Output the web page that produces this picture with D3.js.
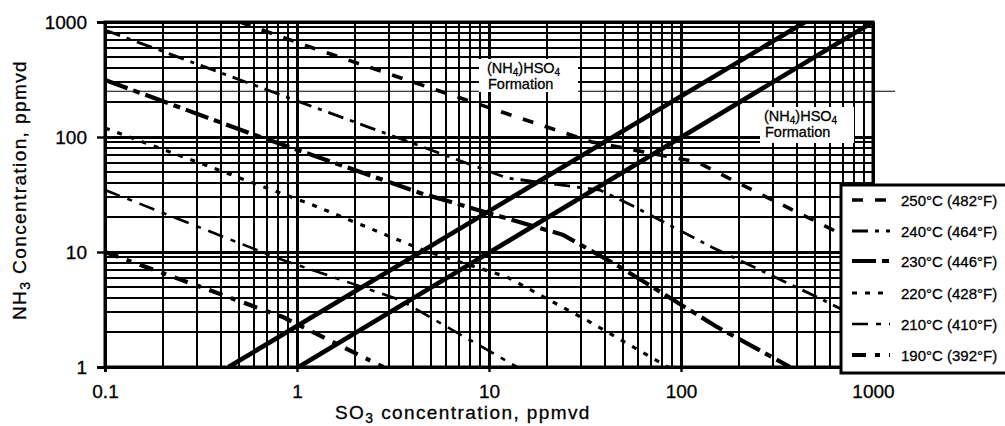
<!DOCTYPE html>
<html>
<head>
<meta charset="utf-8">
<script src="https://cdn.jsdelivr.net/npm/d3@7"></script>
<style>
    body { margin: 0; background: #fff; }
    text { font-family: "Liberation Sans", Arial, Helvetica, sans-serif; fill: #000; stroke: #000; stroke-width: 0.3px; }
</style>
</head>
<body>
<svg id="SVG_CONTAINER_Chart" width="1005" height="426"></svg>
<script>
//** DATA *****************************************
const xTickValues = [0.1, 1, 10, 100, 1000];
const yTickValues = [1, 10, 100, 1000];

const legendLabels = ["250°C (482°F)", "240°C (464°F)", "230°C (446°F)",
                      "220°C (428°F)", "210°C (410°F)", "190°C (392°F)"];

// [SO3, NH3] points
const curve250 = [[0.505, 1000], [1.21, 594], [3.74, 313], [14.5, 146], [34.4, 90.5], [121, 60.6], [252, 32.6], [549, 17.2], [1000, 10.4]];
const curve240 = [[0.1, 851], [1.04, 201], [4.53, 81.8], [12.4, 44.0], [37.8, 34.6], [57.6, 24.6], [145, 11.0], [511, 4.06], [1000, 2.32]];
const curve230 = [[0.1, 313], [0.604, 104], [4.37, 32.6], [24.3, 14.1], [48.1, 7.41], [154, 2.23], [370, 1]];
const curve220 = [[0.1, 120], [1.21, 25.6], [4.53, 10.4], [12.4, 6.06], [33.6, 2.46], [85.5, 1]];
const curve210 = [[0.1, 34.6], [0.787, 8.87], [3.44, 3.83], [14.0, 1]];
const curve190 = [[0.1, 10], [0.845, 2.72], [2.81, 1]];

// (NH4)HSO4 formation boundaries
const formationUpper = [[0.44, 1], [443, 1000]];
const formationLower = [[1.02, 1], [1000, 1000]];

const curves = [curve250, curve240, curve230, curve220, curve210, curve190];

//** STYLES *****************************************
const curveStyles = [
    {width: 3.6, dash: "11,12"},
    {width: 2.8, dash: "16,7,4,7"},
    {width: 4.2, dash: "24,6,7,6"},
    {width: 3.2, dash: "5,8"},
    {width: 2.6, dash: "16,8,5,8"},
    {width: 4.2, dash: "14,9,5,9"}
];

const MARGIN = {LEFT: 105, RIGHT: 873, TOP: 22, BOTTOM: 367};

let svg = d3.select("#SVG_CONTAINER_Chart");

//** SCALES *****************************************
let xScale = d3.scaleLog()
    .domain([0.1, 1000])
    .range([MARGIN.LEFT, MARGIN.RIGHT]);

let yScale = d3.scaleLog()
    .domain([1, 1000])
    .range([MARGIN.BOTTOM, MARGIN.TOP]);

let chart = svg.append("g").attr("class", "chart");

//** GRID *****************************************
chart.append("g")
    .attr("shape-rendering", "crispEdges")
    .selectAll("line")
    .data(xScale.ticks())
    .enter()
    .append("line")
    .attr("x1", d => Math.round(xScale(d)))
    .attr("x2", d => Math.round(xScale(d)))
    .attr("y1", MARGIN.TOP)
    .attr("y2", MARGIN.BOTTOM)
    .attr("stroke", "#000")
    .attr("stroke-width", d => xTickValues.includes(d) ? 3 : 2);

chart.append("g")
    .attr("shape-rendering", "crispEdges")
    .selectAll("line")
    .data(yScale.ticks())
    .enter()
    .append("line")
    .attr("x1", MARGIN.LEFT)
    .attr("x2", MARGIN.RIGHT)
    .attr("y1", d => Math.round(yScale(d)))
    .attr("y2", d => Math.round(yScale(d)))
    .attr("stroke", "#000")
    .attr("stroke-width", d => yTickValues.includes(d) ? 3 : 2);

// stray line in the scan that runs past the frame
chart.append("line")
    .attr("x1", MARGIN.LEFT)
    .attr("x2", MARGIN.RIGHT + 22)
    .attr("y1", yScale(250))
    .attr("y2", yScale(250))
    .attr("stroke", "#000")
    .attr("stroke-width", 1.2);

//** AXES *****************************************
let yAxis = d3.axisLeft(yScale)
    .tickValues(yTickValues)
    .tickFormat(d3.format("d"))
    .tickSize(8)
    .tickPadding(10);

let yAxisGroup = chart.append("g")
    .attr("transform", "translate(" + MARGIN.LEFT + ",0)")
    .call(yAxis);
yAxisGroup.select(".domain").attr("stroke-width", 3);
yAxisGroup.selectAll(".tick line").attr("stroke-width", 2.4);
yAxisGroup.selectAll(".tick text")
    .attr("font-size", "19px")
    .attr("font-family", "Liberation Sans, Arial, sans-serif")
    .attr("dy", "0.34em");

let xAxis = d3.axisBottom(xScale)
    .tickValues(xTickValues)
    .tickFormat(d => d < 1 ? "0.1" : d3.format("d")(d))
    .tickSize(5)
    .tickPadding(13);

let xAxisGroup = chart.append("g")
    .attr("transform", "translate(0," + MARGIN.BOTTOM + ")")
    .call(xAxis);
xAxisGroup.select(".domain").attr("stroke-width", 3);
xAxisGroup.selectAll(".tick line").attr("stroke-width", 2.4);
xAxisGroup.selectAll(".tick text")
    .attr("font-size", "19px")
    .attr("font-family", "Liberation Sans, Arial, sans-serif");

// frame top/right
chart.append("rect")
    .attr("x", MARGIN.LEFT)
    .attr("y", MARGIN.TOP)
    .attr("width", MARGIN.RIGHT - MARGIN.LEFT)
    .attr("height", MARGIN.BOTTOM - MARGIN.TOP)
    .attr("fill", "none")
    .attr("stroke", "#000")
    .attr("stroke-width", 3);

//** CURVES *****************************************
svg.append("clipPath")
    .attr("id", "plotClip")
    .append("rect")
    .attr("x", MARGIN.LEFT)
    .attr("y", MARGIN.TOP)
    .attr("width", MARGIN.RIGHT - MARGIN.LEFT)
    .attr("height", MARGIN.BOTTOM - MARGIN.TOP);

let line = d3.line()
    .x(d => xScale(d[0]))
    .y(d => yScale(d[1]));

let curveGroup = chart.append("g").attr("clip-path", "url(#plotClip)");

for (let i = 0; i < curves.length; i++) {
    curveGroup.append("path")
        .datum(curves[i])
        .attr("d", line)
        .attr("fill", "none")
        .attr("stroke", "#000")
        .attr("stroke-width", curveStyles[i].width)
        .attr("stroke-dasharray", curveStyles[i].dash);
}

[formationUpper, formationLower].forEach(f => {
    curveGroup.append("path")
        .datum(f)
        .attr("d", line)
        .attr("fill", "none")
        .attr("stroke", "#000")
        .attr("stroke-width", 4.6);
});

//** FORMATION LABELS *****************************************
function formationLabel(bx, by, bw, bh, tx, ty)
{
    let g = chart.append("g");
    g.append("rect")
        .attr("x", bx).attr("y", by)
        .attr("width", bw).attr("height", bh)
        .attr("fill", "#fff");

    let t = g.append("text")
        .attr("x", tx)
        .attr("y", ty)
        .attr("font-size", "14.5px");
    t.append("tspan").text("(NH");
    t.append("tspan").attr("dy", 3).attr("font-size", "10px").text("4");
    t.append("tspan").attr("dy", -3).text(")HSO");
    t.append("tspan").attr("dy", 3).attr("font-size", "10px").text("4");

    g.append("text")
        .attr("x", tx + 1)
        .attr("y", ty + 16)
        .attr("font-size", "14.5px")
        .text("Formation");
}

formationLabel(479, 59, 99, 33, 487, 73);
formationLabel(760, 107, 94, 36, 764, 121);

//** AXIS TITLES *****************************************
let xLabel = svg.append("text")
    .attr("x", 335)
    .attr("y", 419)
    .attr("font-size", "19px")
    .attr("letter-spacing", "1.4px");
xLabel.append("tspan").text("SO");
xLabel.append("tspan").attr("dy", 4).attr("font-size", "14px").text("3");
xLabel.append("tspan").attr("dy", -4).text("  concentration, ppmvd");

let yLabel = svg.append("text")
    .attr("transform", "translate(26,320) rotate(-90)")
    .attr("font-size", "19px")
    .attr("letter-spacing", "1.4px");
yLabel.append("tspan").text("NH");
yLabel.append("tspan").attr("dy", 4).attr("font-size", "14px").text("3");
yLabel.append("tspan").attr("dy", -4).text(" Concentration, ppmvd");

//** LEGEND *****************************************
let legendX = 841;
let legendY = 185;
let legendRowY = [200, 231, 261, 293, 324, 355];

let legend = svg.append("g").attr("class", "legend");

legend.append("rect")
    .attr("x", legendX)
    .attr("y", legendY)
    .attr("width", 180)
    .attr("height", 188)
    .attr("fill", "#fff")
    .attr("stroke", "#000")
    .attr("stroke-width", 3);

legend.selectAll("legend_line")
    .data(legendLabels)
    .enter()
    .append("line")
    .attr("x1", 852)
    .attr("x2", 890)
    .attr("y1", (d, i) => legendRowY[i])
    .attr("y2", (d, i) => legendRowY[i])
    .attr("stroke", "#000")
    .attr("stroke-width", (d, i) => curveStyles[i].width)
    .attr("stroke-dasharray", (d, i) => curveStyles[i].dash);

legend.selectAll("legend_text")
    .data(legendLabels)
    .enter()
    .append("text")
    .attr("x", 901)
    .attr("y", (d, i) => legendRowY[i] + 6)
    .attr("font-size", "15px")
    .text(d => d);
</script>
</body>
</html>
